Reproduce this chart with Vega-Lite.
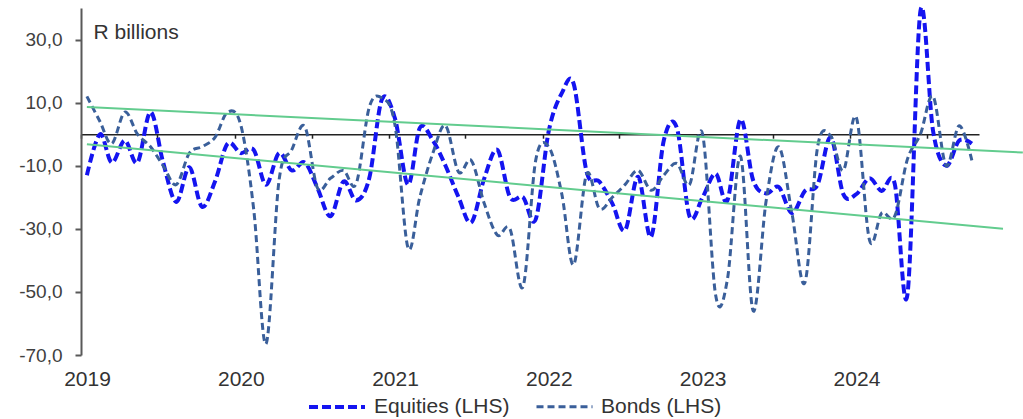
{
  "$schema": "https://vega.github.io/schema/vega-lite/v6.json",
  "width": 898,
  "height": 347,
  "autosize": {"type": "none"},
  "padding": {"left": 81, "top": 8, "right": 44, "bottom": 64},
  "background": "white",
  "config": {"view": {"stroke": null}, "font": "Liberation Sans"},
  "layer": [
    {
      "data": {"values": [
        {"date": "2019-01-15", "Equities (LHS)": -13, "Bonds (LHS)": 12},
        {"date": "2019-02-15", "Equities (LHS)": 0, "Bonds (LHS)": 4},
        {"date": "2019-03-15", "Equities (LHS)": -9, "Bonds (LHS)": -3},
        {"date": "2019-04-15", "Equities (LHS)": -2, "Bonds (LHS)": 7},
        {"date": "2019-05-15", "Equities (LHS)": -9, "Bonds (LHS)": 0},
        {"date": "2019-06-15", "Equities (LHS)": 7, "Bonds (LHS)": -4},
        {"date": "2019-07-15", "Equities (LHS)": -9, "Bonds (LHS)": -10},
        {"date": "2019-08-15", "Equities (LHS)": -21.5, "Bonds (LHS)": -16},
        {"date": "2019-09-15", "Equities (LHS)": -10.5, "Bonds (LHS)": -6},
        {"date": "2019-10-15", "Equities (LHS)": -23, "Bonds (LHS)": -4},
        {"date": "2019-11-15", "Equities (LHS)": -15, "Bonds (LHS)": -1},
        {"date": "2019-12-15", "Equities (LHS)": -3, "Bonds (LHS)": 7},
        {"date": "2020-01-15", "Equities (LHS)": -6, "Bonds (LHS)": 3},
        {"date": "2020-02-15", "Equities (LHS)": -5, "Bonds (LHS)": -24},
        {"date": "2020-03-15", "Equities (LHS)": -16, "Bonds (LHS)": -66.5},
        {"date": "2020-04-15", "Equities (LHS)": -6, "Bonds (LHS)": -14.6},
        {"date": "2020-05-15", "Equities (LHS)": -11.5, "Bonds (LHS)": -5},
        {"date": "2020-06-15", "Equities (LHS)": -9, "Bonds (LHS)": 2.4},
        {"date": "2020-07-15", "Equities (LHS)": -17, "Bonds (LHS)": -17},
        {"date": "2020-08-15", "Equities (LHS)": -26, "Bonds (LHS)": -14},
        {"date": "2020-09-15", "Equities (LHS)": -15, "Bonds (LHS)": -11.5},
        {"date": "2020-10-15", "Equities (LHS)": -21, "Bonds (LHS)": -15.7},
        {"date": "2020-11-15", "Equities (LHS)": -14, "Bonds (LHS)": 8.5},
        {"date": "2020-12-15", "Equities (LHS)": 11, "Bonds (LHS)": 11.5},
        {"date": "2021-01-15", "Equities (LHS)": 5, "Bonds (LHS)": 3},
        {"date": "2021-02-15", "Equities (LHS)": -16, "Bonds (LHS)": -36},
        {"date": "2021-03-15", "Equities (LHS)": 2, "Bonds (LHS)": -20},
        {"date": "2021-04-15", "Equities (LHS)": -2, "Bonds (LHS)": -6},
        {"date": "2021-05-15", "Equities (LHS)": -10, "Bonds (LHS)": 2.7},
        {"date": "2021-06-15", "Equities (LHS)": -20, "Bonds (LHS)": -12},
        {"date": "2021-07-15", "Equities (LHS)": -28, "Bonds (LHS)": -8.3},
        {"date": "2021-08-15", "Equities (LHS)": -14, "Bonds (LHS)": -22},
        {"date": "2021-09-15", "Equities (LHS)": -5, "Bonds (LHS)": -32},
        {"date": "2021-10-15", "Equities (LHS)": -20, "Bonds (LHS)": -30},
        {"date": "2021-11-15", "Equities (LHS)": -20, "Bonds (LHS)": -48.3},
        {"date": "2021-12-15", "Equities (LHS)": -27, "Bonds (LHS)": -8.3},
        {"date": "2022-01-15", "Equities (LHS)": 1, "Bonds (LHS)": -4},
        {"date": "2022-02-15", "Equities (LHS)": 13, "Bonds (LHS)": -19},
        {"date": "2022-03-15", "Equities (LHS)": 16, "Bonds (LHS)": -41.4},
        {"date": "2022-04-15", "Equities (LHS)": -12, "Bonds (LHS)": -12.6},
        {"date": "2022-05-15", "Equities (LHS)": -15, "Bonds (LHS)": -23.6},
        {"date": "2022-06-15", "Equities (LHS)": -22, "Bonds (LHS)": -20},
        {"date": "2022-07-15", "Equities (LHS)": -30.5, "Bonds (LHS)": -16},
        {"date": "2022-08-15", "Equities (LHS)": -13.5, "Bonds (LHS)": -11.5},
        {"date": "2022-09-15", "Equities (LHS)": -32.5, "Bonds (LHS)": -17.8},
        {"date": "2022-10-15", "Equities (LHS)": -2, "Bonds (LHS)": -13},
        {"date": "2022-11-15", "Equities (LHS)": 2, "Bonds (LHS)": -9.3},
        {"date": "2022-12-15", "Equities (LHS)": -26, "Bonds (LHS)": -16},
        {"date": "2023-01-15", "Equities (LHS)": -20, "Bonds (LHS)": 0},
        {"date": "2023-02-15", "Equities (LHS)": -12.5, "Bonds (LHS)": -51},
        {"date": "2023-03-15", "Equities (LHS)": -21, "Bonds (LHS)": -46},
        {"date": "2023-04-15", "Equities (LHS)": 4.7, "Bonds (LHS)": -7},
        {"date": "2023-05-15", "Equities (LHS)": -14.6, "Bonds (LHS)": -56},
        {"date": "2023-06-15", "Equities (LHS)": -18.8, "Bonds (LHS)": -21},
        {"date": "2023-07-15", "Equities (LHS)": -16.8, "Bonds (LHS)": -4},
        {"date": "2023-08-15", "Equities (LHS)": -25, "Bonds (LHS)": -25},
        {"date": "2023-09-15", "Equities (LHS)": -18, "Bonds (LHS)": -47},
        {"date": "2023-10-15", "Equities (LHS)": -16, "Bonds (LHS)": -4},
        {"date": "2023-11-15", "Equities (LHS)": -1, "Bonds (LHS)": -0.5},
        {"date": "2023-12-15", "Equities (LHS)": -19, "Bonds (LHS)": -11.5},
        {"date": "2024-01-15", "Equities (LHS)": -19, "Bonds (LHS)": 5.3},
        {"date": "2024-02-15", "Equities (LHS)": -14, "Bonds (LHS)": -33.5},
        {"date": "2024-03-15", "Equities (LHS)": -18, "Bonds (LHS)": -25},
        {"date": "2024-04-15", "Equities (LHS)": -15.7, "Bonds (LHS)": -26},
        {"date": "2024-05-15", "Equities (LHS)": -51, "Bonds (LHS)": -8},
        {"date": "2024-06-15", "Equities (LHS)": 39, "Bonds (LHS)": 0},
        {"date": "2024-07-15", "Equities (LHS)": 1, "Bonds (LHS)": 12},
        {"date": "2024-08-15", "Equities (LHS)": -10, "Bonds (LHS)": -10},
        {"date": "2024-09-15", "Equities (LHS)": -2, "Bonds (LHS)": 2.7},
        {"date": "2024-10-15", "Equities (LHS)": -3, "Bonds (LHS)": -8.3}
      ]},
      "transform": [{"fold": ["Equities (LHS)", "Bonds (LHS)"], "as": ["series", "value"]}],
      "mark": {"type": "line", "interpolate": "cardinal"},
      "encoding": {
        "x": {
          "field": "date", "type": "temporal",
          "scale": {"type": "utc", "domain": [{"year": 2019, "month": 1, "date": 1, "utc": true}, {"year": 2024, "month": 11, "date": 1, "utc": true}]},
          "axis": {"orient": "bottom", "domain": false, "ticks": false, "grid": false, "format": "%Y", "tickCount": {"interval": "year", "step": 1}, "labelOffset": 6, "labelPadding": 13, "labelFontSize": 21, "labelColor": "#333333", "labelFlush": false, "labelOverlap": false, "title": null}
        },
        "y": {
          "field": "value", "type": "quantitative",
          "scale": {"domain": [-70, 40], "nice": false, "zero": false},
          "axis": {"values": [-70, -50, -30, -10, 10, 30], "grid": false, "domainColor": "#595959", "domainWidth": 2, "tickColor": "#595959", "tickWidth": 2, "tickSize": 6, "labelPadding": 13, "labelFontSize": 19, "labelColor": "#404040", "labelExpr": "replace(replace(format(datum.value, '.1f'), '.', ','), '\u2212', '-')", "title": "R billions", "titleAngle": 0, "titleAlign": "left", "titleBaseline": "alphabetic", "titleX": 12, "titleY": 30, "titleFontSize": 21, "titleFontWeight": "normal", "titleColor": "#333333"}
        },
        "color": {
          "field": "series", "type": "nominal",
          "scale": {"domain": ["Equities (LHS)", "Bonds (LHS)"], "range": ["#1414F0", "#3A5F9A"]},
          "legend": {"title": null, "orient": "none", "legendX": 226, "legendY": 369, "direction": "horizontal", "symbolType": "stroke", "symbolSize": 3136, "labelFontSize": 21, "labelColor": "#333333", "labelOffset": 7, "columnPadding": 20}
        },
        "strokeWidth": {"field": "series", "type": "nominal", "scale": {"domain": ["Equities (LHS)", "Bonds (LHS)"], "range": [4, 3]}},
        "strokeDash": {"field": "series", "type": "nominal", "scale": {"domain": ["Equities (LHS)", "Bonds (LHS)"], "range": [[9, 4], [7, 4]]}}
      }
    },
    {
      "data": {"values": [
        {"trend": "upper", "date": "2019-01-15", "value": 8.6},
        {"trend": "upper", "date": "2025-02-13", "value": -5.8},
        {"trend": "lower", "date": "2019-01-15", "value": -3.2},
        {"trend": "lower", "date": "2024-12-28", "value": -30}
      ]},
      "mark": {"type": "line", "color": "#62CC8E", "strokeWidth": 2},
      "encoding": {
        "x": {"field": "date", "type": "temporal", "axis": {"orient": "bottom", "offset": -220.8, "domain": true, "domainColor": "#222222", "domainWidth": 1.5, "ticks": true, "tickColor": "#222222", "tickSize": 4, "tickWidth": 1.5, "tickCount": {"interval": "month", "step": 6}, "labels": false, "grid": false, "title": null}},
        "y": {"field": "value", "type": "quantitative"},
        "detail": {"field": "trend", "type": "nominal"}
      }
    }
  ],
  "resolve": {"axis": {"x": "independent"}}
}
